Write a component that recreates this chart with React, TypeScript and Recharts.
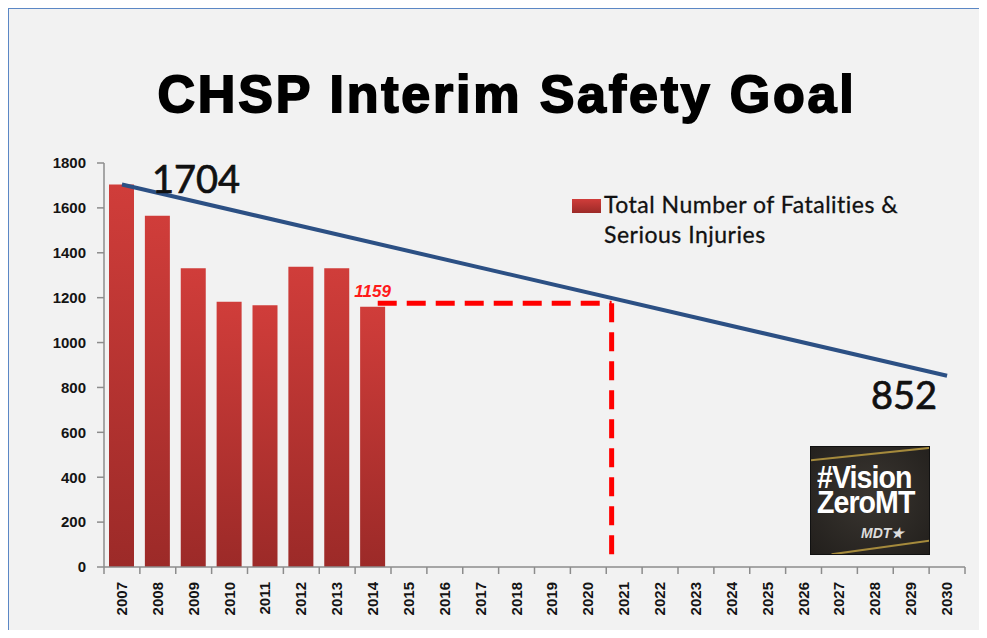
import React from "react"
import {
  Bar,
  ComposedChart,
  LabelList,
  Line,
  ReferenceLine,
  XAxis,
  YAxis,
} from "recharts"

// years on the x axis
const YEARS = [
  2007, 2008, 2009, 2010, 2011, 2012, 2013, 2014, 2015, 2016, 2017, 2018,
  2019, 2020, 2021, 2022, 2023, 2024, 2025, 2026, 2027, 2028, 2029, 2030,
]
// total fatalities & serious injuries, 2007-2014
const FSI = [1704, 1565, 1331, 1182, 1166, 1338, 1331, 1159]
// goal line end points
const GOAL_YEARS = [2007, 2030]
const GOAL_VALUES = [1704, 852]
const Y_TICKS = [0, 200, 400, 600, 800, 1000, 1200, 1400, 1600, 1800]
// red dashed marker (2014 level carried over to the goal line)
const TARGET_LEVEL = 1175
const TARGET_START = 2014.13
const TARGET_YEAR = 2020.65
const TARGET_FLOOR = 25
const LABELLED_YEAR = 2014

const data = YEARS.map((year, i) => {
  const g = GOAL_YEARS.indexOf(year)
  return {
    year,
    fsi: i < FSI.length ? FSI[i] : null,
    goal: g >= 0 ? GOAL_VALUES[g] : null,
  }
})

const W = 987
const H = 638
const PLOT_LEFT = 104
const PLOT_RIGHT = 965
const BAND = (PLOT_RIGHT - PLOT_LEFT) / YEARS.length
const AXIS = "#8c8c8c"
const FONT = "'Liberation Sans', Arial, sans-serif"

function YearTick({ x, y, payload, index }: any) {
  const last = index === YEARS.length - 1
  return (
    <g>
      <line x1={x - BAND / 2} x2={x - BAND / 2} y1={y} y2={y + 7} stroke={AXIS} strokeWidth={1.5} />
      {last && <line x1={x + BAND / 2} x2={x + BAND / 2} y1={y} y2={y + 7} stroke={AXIS} strokeWidth={1.5} />}
      <text
        x={x + 5}
        y={y + 15}
        transform={`rotate(-90, ${x + 5}, ${y + 15})`}
        textAnchor="end"
        fontFamily={FONT}
        fontWeight="bold"
        fontSize={15}
        fill="#141414"
      >
        {payload.value}
      </text>
    </g>
  )
}

function GoalLabel({ x, y, value }: any) {
  if (value == null || x == null || y == null) return null
  const first = value === GOAL_VALUES[0]
  return (
    <text
      x={first ? x + 30 : x - 10}
      y={first ? y + 8 : y + 33}
      textAnchor={first ? "start" : "end"}
      fontFamily="Lato, sans-serif"
      fontSize={38}
      fill="#111"
      stroke="#111"
      strokeWidth={0.7}
    >
      {value}
    </text>
  )
}

function BarValue({ x, y, width, value, index }: any) {
  if (YEARS[index] !== LABELLED_YEAR) return null
  return (
    <text
      x={x + width / 2}
      y={y - 10}
      textAnchor="middle"
      fontFamily={FONT}
      fontWeight="bold"
      fontStyle="italic"
      fontSize={17}
      fill="#ff1a1a"
    >
      {value}
    </text>
  )
}

const logoLine = {
  position: "absolute" as const,
  left: 6,
  fontWeight: "bold",
  fontSize: 31,
  lineHeight: "24px",
  letterSpacing: -1,
  transform: "scaleX(0.92)",
  transformOrigin: "left top",
  whiteSpace: "nowrap" as const,
}

export default function App() {
  return (
    <div style={{ position: "relative", margin: -8, width: W, height: H, background: "#fff", overflow: "hidden" }}>
      <div
        style={{
          position: "absolute",
          left: 7,
          top: 7,
          width: W + 10,
          height: H + 10,
          borderTop: "2px solid #5b87c5",
          borderLeft: "2px solid #5b87c5",
          background: "#f2f2f2",
        }}
      />
      <div
        style={{
          position: "absolute",
          left: 7,
          top: 68,
          width: 1000,
          textAlign: "center",
          fontFamily: FONT,
          fontWeight: "bold",
          fontSize: 52,
          lineHeight: "52px",
          letterSpacing: 2.8,
          WebkitTextStroke: "1.8px #000",
          color: "#000",
          whiteSpace: "nowrap",
        }}
      >
        CHSP Interim Safety Goal
      </div>

      <div style={{ position: "absolute", left: 0, top: 0 }}>
        <ComposedChart
          width={W}
          height={H}
          data={data}
          margin={{ top: 163, right: W - PLOT_RIGHT, left: PLOT_LEFT - 60, bottom: 11 }}
        >
          <defs>
            <linearGradient id="barFill" x1="0" y1="0" x2="0" y2="1">
              <stop offset="0%" stopColor="#d03d3a" />
              <stop offset="100%" stopColor="#9c2a28" />
            </linearGradient>
          </defs>
          <XAxis
            type="number"
            dataKey="year"
            domain={[2006.5, 2030.5]}
            ticks={YEARS}
            interval={0}
            height={60}
            tickSize={0}
            tickMargin={0}
            tickLine={false}
            axisLine={{ stroke: AXIS, strokeWidth: 1.5 }}
            tick={<YearTick />}
          />
          <YAxis
            width={60}
            domain={[0, 1800]}
            ticks={Y_TICKS}
            interval={0}
            tickSize={7}
            tickMargin={11}
            axisLine={{ stroke: AXIS, strokeWidth: 1.5 }}
            tickLine={{ stroke: AXIS, strokeWidth: 1.5 }}
            tick={{ fill: "#141414", fontSize: 15, fontWeight: "bold", fontFamily: FONT }}
          />
          <Bar dataKey="fsi" fill="url(#barFill)" barSize={25} isAnimationActive={false}>
            <LabelList dataKey="fsi" content={<BarValue />} />
          </Bar>
          <ReferenceLine
            segment={[
              { x: TARGET_START, y: TARGET_LEVEL },
              { x: TARGET_YEAR, y: TARGET_LEVEL },
            ]}
            stroke="#ff0000"
            strokeWidth={5}
            strokeDasharray="19 10"
          />
          <ReferenceLine
            segment={[
              { x: TARGET_YEAR, y: TARGET_LEVEL },
              { x: TARGET_YEAR, y: TARGET_FLOOR },
            ]}
            stroke="#ff0000"
            strokeWidth={5}
            strokeDasharray="19 10"
          />
          <Line
            dataKey="goal"
            type="linear"
            stroke="#2c5084"
            strokeWidth={4}
            dot={false}
            activeDot={false}
            connectNulls
            isAnimationActive={false}
          >
            <LabelList dataKey="goal" content={<GoalLabel />} />
          </Line>
        </ComposedChart>
      </div>

      {/* legend */}
      <div style={{ position: "absolute", left: 572, top: 199, width: 29, height: 14, background: "linear-gradient(#d03d3a, #9c2a28)" }} />
      <div
        style={{
          position: "absolute",
          left: 604,
          top: 189,
          fontFamily: "Lato, sans-serif",
          fontSize: 23,
          lineHeight: "30px",
          letterSpacing: 0.5,
          color: "#111",
          WebkitTextStroke: "0.3px #111",
          whiteSpace: "nowrap",
        }}
      >
        Total Number of Fatalities &amp;
        <br />
        Serious Injuries
      </div>

      {/* logo */}
      <div
        style={{
          position: "absolute",
          left: 810,
          top: 446,
          width: 118,
          height: 107,
          background: "radial-gradient(circle at 50% 45%, #3a3631, #221f1c)",
          border: "1px solid #111",
          overflow: "hidden",
          fontFamily: FONT,
          color: "#fff",
        }}
      >
        <div style={{ position: "absolute", left: -10, top: 6, width: 140, height: 2, background: "#a58a3c", transform: "rotate(-6deg)" }} />
        <div style={{ position: "absolute", left: 20, top: 98, width: 120, height: 2, background: "#a58a3c", transform: "rotate(-8deg)" }} />
        <div style={{ ...logoLine, top: 19 }}>#Vision</div>
        <div style={{ ...logoLine, top: 44 }}>ZeroMT</div>
        <div style={{ position: "absolute", left: 50, top: 79, fontWeight: "bold", fontStyle: "italic", fontSize: 14, lineHeight: "14px", color: "#ddd" }}>
          MDT★
        </div>
      </div>
    </div>
  )
}
